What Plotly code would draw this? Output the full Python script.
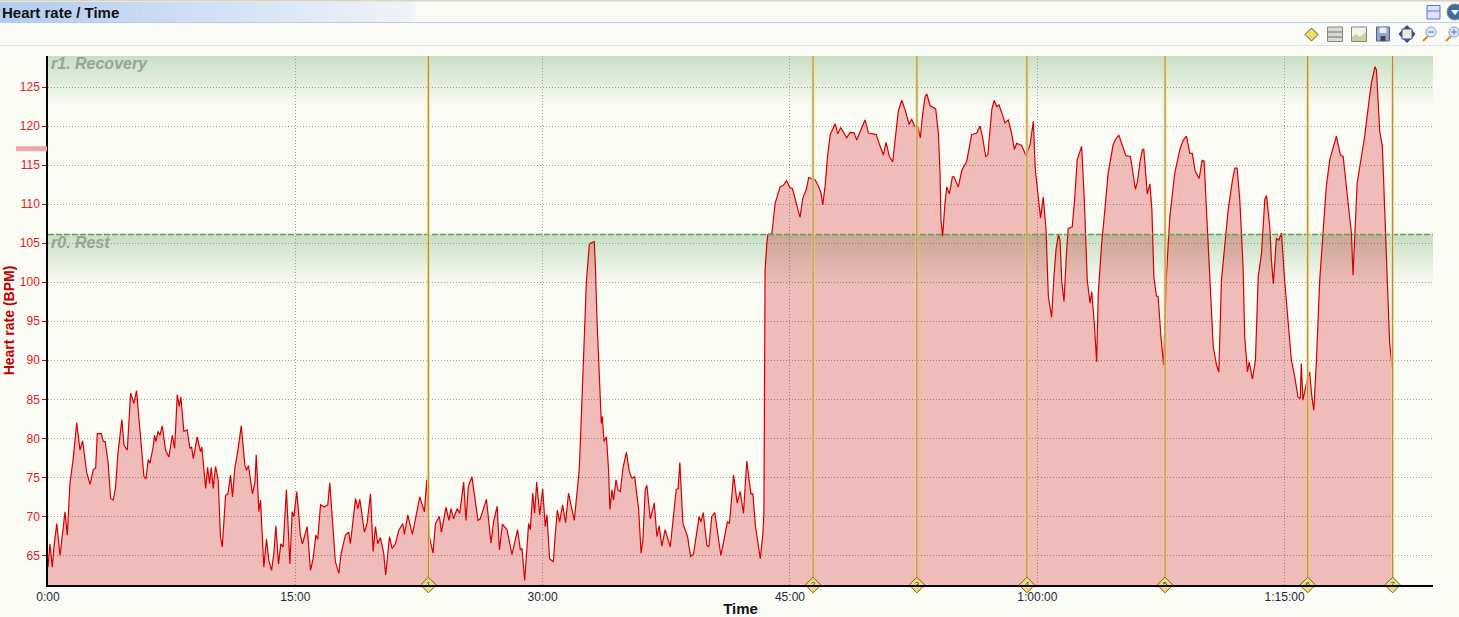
import plotly.graph_objects as go

W, H = 1459, 617

# ---- data -------------------------------------------------------------
minutes_a = [0,.12,.26,.36,.53,.73,.93,1.03,1.17,1.33,1.54,1.74,1.94,2.10,2.34,2.55,2.75,2.89,2.99,3.23,3.35,3.47,3.64,3.80,3.96,4.10,4.24,4.48,4.61,4.81,5.01,5.21,5.37,5.62,5.82,5.94,6.08,6.18,6.38,6.46,6.55,6.67,6.79,6.93,7.13,7.33,7.54,7.68,7.84,7.96,8.06,8.24,8.44,8.61,8.71,8.81,9.05,9.25,9.33,9.56,9.68,9.80,9.90,10.02,10.16,10.32,10.46,10.57,10.77,10.91,11.07,11.19,11.33,11.52,11.72,11.94,12.04,12.16,12.40,12.55,12.63,12.79,12.89]
bpm_a = [63.5,66.5,63.5,66.1,69.1,65.0,68.7,70.6,67.6,74.2,77.6,82.0,78.5,79.7,75.7,74.1,76.0,76.2,80.6,80.6,79.6,79.6,77.0,72.3,72.1,73.8,78.1,82.4,79.1,78.5,85.8,84.5,86.1,79.4,75.1,74.8,77.3,76.8,78.9,80.4,79.6,80.9,80.4,81.6,78.5,77.6,80.4,78.7,85.6,84.1,85.3,80.9,81.1,78.7,78.9,77.4,80.2,78.3,78.9,73.6,76.3,74.2,76.3,73.6,76.4,74.7,67.4,66.1,72.7,72.9,75.3,72.5,76.2,78.5,81.6,76.6,75.9,76.5,72.9,74.4,77.9,70.6,72.1]

minutes_b = [13.09,13.25,13.39,13.56,13.70,13.82,13.98,14.12,14.26,14.46,14.67,14.81,14.91,15.09,15.31,15.43,15.72,15.92,16.08,16.24,16.36,16.53,16.77,16.97,17.09,17.43,17.64,17.78,18.04,18.24,18.34,18.46,18.65,18.79,18.91,19.19,19.35,19.56,19.72,19.86,20.0,20.16,20.36,20.48,20.71,20.87,21.07,21.27,21.52,21.62,21.82,22.1,22.28,22.55,22.83,22.97,23.13,23.35,23.5,23.74,23.86,24.14,24.32,24.44,24.6,24.81,24.97,25.21,25.35,25.49,25.71,26.08]
bpm_b = [63.5,67.1,64.4,63.1,65.3,68.8,63.9,66.5,66.1,73.4,63.9,70.6,70.0,73.2,67.6,66.5,68.7,63.1,64.6,67.6,67.1,71.5,71.2,71.5,74.3,64.2,62.7,65.3,67.6,68.0,66.5,69.1,72.3,71.0,72.2,68.0,69.1,72.9,65.5,68.7,66.5,67.3,65.3,62.5,67.4,65.9,66.5,68.2,69.1,67.7,70.2,67.7,69.5,72.5,70.6,74.7,67.4,65.3,69.1,70.0,68.0,71.2,69.5,71.0,69.7,71.0,70.4,74.4,69.5,73.8,75.1,69.5]

minutes_c = [26.22,26.59,26.87,27.03,27.24,27.38,27.56,27.84,28.14,28.48,28.65,28.75,28.91,29.15,29.25,29.4,29.51,29.64,29.82,30.0,30.16,30.26,30.42,30.65,30.77,30.89,31.03,31.21,31.39,31.57,31.92,32.08,32.22,32.34,32.47,32.65,32.83,32.9,33.13,33.2,33.3,33.45,33.56,33.62,33.72,33.87,34.0,34.08,34.2,34.3,34.45,34.57,34.71,34.87,35.08,35.26,35.42,35.58,35.82,35.97,36.08,36.22,36.32,36.53,36.77,36.93,37.07,37.23,37.43,37.74,37.95,38.1,38.22,38.32,38.51,38.79,38.97,39.15,39.35,39.49,39.6,39.74,39.96,40.08,40.26,40.44,40.81,41.07,41.21,41.33,41.58,41.8,41.98,42.18,42.38,42.63,42.75,42.91,43.2,43.36,43.42]
bpm_c = [69.7,72.2,66.6,69.4,71.3,65.7,69.0,68.3,65.1,68.3,65.7,65.9,61.8,69.1,68.3,73.0,70.4,74.4,70.2,73.5,68.7,70.2,64.6,64.2,67.8,70.8,69.3,71.5,69.2,73.0,69.5,73.4,76.0,82.4,90.0,100.0,104.8,105.0,105.2,102.0,95.0,87.5,81.9,82.8,79.6,80.2,75.9,70.9,73.4,72.1,74.7,73.4,73.2,76.2,78.2,75.7,74.9,75.1,71.0,65.3,67.0,73.4,74.0,69.7,71.7,67.4,68.8,66.2,68.3,66.1,70.0,73.4,73.6,76.9,69.1,67.4,64.9,65.2,68.0,70.0,69.3,70.5,66.3,66.1,70.0,70.5,65.0,68.0,69.3,69.1,75.3,71.7,73.2,70.4,77.1,72.9,72.9,68.7,64.6,67.8,70.4]

minutes_d = [43.46,43.49,43.6,43.66,43.9,44.1,44.4,44.6,44.8,45.0,45.15,45.37,45.61,45.78,45.98,46.14,46.53,46.73,46.89,46.99,47.13,47.27,47.44,47.74,47.9,48.08,48.44,48.65,48.89,49.05,49.56,49.76,50.23,50.47,50.67,50.83,51.03,51.23,51.42,51.57,51.78,51.98,52.23,52.38,52.55,52.75,52.91,53.03,53.2,53.3,53.5,53.84,54.0,54.1,54.16,54.26,54.4,54.51,54.67,54.85,54.95,55.21,55.42,55.72,56.02,56.33,56.53,56.67,56.87,57.0,57.24,57.38,57.54,57.68,57.88,58.04,58.24,58.44,58.61,58.75,59.05,59.32,59.56,59.76,59.88,60.12,60.2,60.36,60.53,60.67,60.87,61.01,61.13,61.28,61.38,61.48,61.62,61.78,61.88,62.12,62.28,62.42,62.69,62.85,63.03,63.2,63.3,63.46,63.6]
bpm_d = [87.5,101.6,105.0,106.1,106.2,110.1,112.2,112.4,113.0,112.1,112.0,110.1,108.3,110.8,111.8,113.4,113.1,112.3,111.4,109.9,112.3,115.9,118.9,120.3,119.0,119.8,118.5,119.2,119.1,118.2,120.8,119.1,118.9,117.4,116.3,117.9,116.1,115.4,118.7,121.9,123.3,122.1,120.2,120.9,120.0,119.9,118.5,121.2,123.8,124.1,122.6,122.2,119.1,114.0,108.0,105.9,110.1,112.2,111.3,113.5,113.5,112.2,114.3,115.5,118.9,119.1,120.0,118.7,116.1,116.3,122.1,123.3,122.5,122.7,121.5,120.4,120.8,119.1,117.0,117.8,117.5,116.2,117.6,120.6,114.4,109.3,108.2,110.9,106.7,98.2,95.5,100.7,104.1,106.1,105.4,100.3,97.5,104.1,106.9,107.1,111.0,115.7,117.4,110.6,100.3,97.3,98.8,94.7,89.8]

minutes_e = [63.7,63.9,64.1,64.3,64.6,64.8,64.95,65.11,65.37,65.65,65.81,65.95,66.08,66.22,66.38,66.46,66.67,66.83,66.95,67.07,67.23,67.33,67.5,67.66,67.84,68.04,68.34,68.65,68.85,69.05,69.25,69.4,69.58,69.82,70.0,70.12,70.26,70.46,70.67,70.87,71.01,71.17,71.37,71.58,71.84,71.98,72.12,72.28,72.48,72.58,72.75,72.85,73.05,73.23,73.4,73.6,73.8,73.9,74.1,74.2,74.32,74.5,74.65,74.81,75.0,75.2,75.41,75.6,75.81,75.95,76.01,76.11,76.32,76.52,76.63,76.77,76.93,77.13,77.33,77.53,77.74,77.94,78.14,78.38,78.55,78.79,79.05,79.15,79.32,79.4,79.66,79.86,80.0,80.26,80.48,80.57,80.77,80.93,81.07,81.21,81.37,81.53]
bpm_e = [98.6,104.8,109.3,114.0,117.6,118.5,118.8,117.8,116.2,116.1,114.0,111.9,112.9,115.3,117.0,117.0,111.3,112.6,109.3,100.7,98.2,98.2,93.0,89.4,101.2,108.4,114.0,117.0,118.2,118.7,116.5,116.5,114.2,113.3,115.6,115.5,109.3,100.3,91.8,89.4,88.5,100.3,104.6,109.3,113.1,114.6,114.6,110.6,102.0,93.0,88.5,89.8,87.6,90.0,100.7,103.7,110.6,111.1,107.1,102.8,99.8,105.6,105.4,106.3,100.3,94.7,90.0,88.1,85.3,85.1,89.6,84.9,87.0,88.5,85.8,83.6,90.0,100.3,106.3,112.3,115.7,117.2,118.7,116.3,116.1,111.4,106.3,100.9,108.0,112.7,116.1,118.7,121.2,125.5,127.6,127.2,119.3,117.4,109.3,100.3,92.2,89.0]

lap_minutes = [23.07, 46.4, 52.7, 59.37, 67.75, 76.4, 81.55]
lap_labels = ["1", "2", "3", "4", "5", "6", "7"]
x_tick_minutes = [0, 15, 30, 45, 60, 75]
x_tick_labels = ["0:00", "15:00", "30:00", "45:00", "1:00:00", "1:15:00"]
y_ticks = [65, 70, 75, 80, 85, 90, 95, 100, 105, 110, 115, 120, 125]
rest_threshold = 106.1
rest_zone_floor = 99.5
recovery_zone_floor = 122.5
average_bpm = 117.1
x_range = [0, 84]
y_range = [61.22, 128.97]

minutes = minutes_a + minutes_b + minutes_c + minutes_d + minutes_e
bpm = bpm_a + bpm_b + bpm_c + bpm_d + bpm_e

BG = "#fbfbf5"
FONT = "Liberation Sans"

fig = go.Figure()


def band(y0, y1):
    fig.add_trace(go.Scatter(
        x=[x_range[0], x_range[1], x_range[1], x_range[0], x_range[0]],
        y=[y0, y0, y1, y1, y0], mode="lines", line=dict(width=0),
        fill="toself", hoverinfo="skip", showlegend=False,
        fillgradient=dict(type="vertical",
                          colorscale=[[0, "rgba(105,171,105,0)"],
                                      [1, "rgba(105,171,105,0.35)"]])))


band(recovery_zone_floor, y_range[1])
band(rest_zone_floor, rest_threshold)

fig.add_trace(go.Scatter(x=minutes, y=bpm, mode="lines",
                         line=dict(color="#d40000", width=1.2),
                         fill="tozeroy", fillcolor="rgba(206,0,6,0.25)",
                         showlegend=False))

fig.add_trace(go.Scatter(x=x_range, y=[rest_threshold] * 2, mode="lines",
                         line=dict(color="#5f9f55", width=1.6, dash="6px,2px"),
                         showlegend=False))

for t in lap_minutes:
    fig.add_trace(go.Scatter(x=[t, t], y=y_range, mode="lines",
                             line=dict(color="rgba(245,215,130,0.8)", width=3),
                             showlegend=False))
    fig.add_trace(go.Scatter(x=[t, t], y=y_range, mode="lines",
                             line=dict(color="#a8873c", width=1),
                             showlegend=False))

fig.add_trace(go.Scatter(
    x=lap_minutes, y=[y_range[0]] * len(lap_minutes), mode="markers+text",
    text=lap_labels, textposition="middle center",
    textfont=dict(family=FONT, size=8, color="#333"),
    marker=dict(symbol="diamond", size=12, color="#f4dc78",
                line=dict(color="#6e5c28", width=1)),
    cliponaxis=False, showlegend=False))

# ---- window chrome in page pixels (paper = whole page, margins are zero)
shapes = []
annotations = []


def px(x):
    return x / W


def py(y):
    return 1 - y / H


def rect(x0, y0, x1, y1, fill=None, line=None, lw=1, layer="above"):
    shapes.append(dict(type="rect", xref="paper", yref="paper",
                       x0=px(x0), x1=px(x1), y0=py(y0), y1=py(y1),
                       fillcolor=fill or "rgba(0,0,0,0)",
                       line=dict(color=line or "rgba(0,0,0,0)",
                                 width=lw if line else 0), layer=layer))


def seg(x0, y0, x1, y1, color, lw=1):
    shapes.append(dict(type="line", xref="paper", yref="paper",
                       x0=px(x0), x1=px(x1), y0=py(y0), y1=py(y1),
                       line=dict(color=color, width=lw), layer="above"))


def poly(points, fill, line=None, lw=1):
    path = "M " + " L ".join(f"{px(a):.5f},{py(b):.5f}" for a, b in points) + " Z"
    shapes.append(dict(type="path", xref="paper", yref="paper", path=path,
                       fillcolor=fill,
                       line=dict(color=line or "rgba(0,0,0,0)",
                                 width=lw if line else 0), layer="above"))


def circle(x0, y0, x1, y1, fill, line=None, lw=1):
    shapes.append(dict(type="circle", xref="paper", yref="paper",
                       x0=px(x0), x1=px(x1), y0=py(y0), y1=py(y1),
                       fillcolor=fill,
                       line=dict(color=line or "rgba(0,0,0,0)",
                                 width=lw if line else 0), layer="above"))


# title bar gradient
rect(0, 0, W, 1.5, "#d8d4c4")
c0, c1 = (178, 203, 242), (240, 243, 247)
steps = 70
for i in range(steps):
    f = i / (steps - 1)
    col = "rgb(%d,%d,%d)" % tuple(round(a + (b - a) * f) for a, b in zip(c0, c1))
    rect(i * 415 / steps, 2, (i + 1) * 415 / steps + 0.5, 22, col)
seg(0, 22.5, W, 22.5, "#b9cde6", 1)
seg(0, 45.5, W, 45.5, "#dbe3ea", 1)

# toolbar icons
poly([(1311.5, 28), (1318, 34.5), (1311.5, 41), (1305, 34.5)], "#f5dc70", "#5c5330", 1)
rect(1327.5, 27, 1342.5, 41.5, "#d8d8d4", "#8c8678", 1)
seg(1328, 32, 1342, 32, "#77736a")
seg(1328, 37, 1342, 37, "#77736a")
rect(1351.5, 27, 1366.5, 41.5, "#f4f4e8", "#8c8678", 1)
poly([(1352, 41), (1352, 37), (1356, 34), (1360, 37), (1366, 32), (1366, 41)], "#c8cfa0")
rect(1376.5, 27, 1389.5, 41, "#8fa8d0", "#4f5f8a", 1)
rect(1379.5, 27.5, 1386.5, 33, "#e8edf6")
rect(1380.5, 36, 1385.5, 41, "#444")
poly([(1407, 25), (1411, 29), (1403, 29)], "#44449a")
poly([(1407, 43), (1411, 39), (1403, 39)], "#44449a")
poly([(1398.5, 34), (1402, 30), (1402, 38)], "#44449a")
poly([(1415.5, 34), (1412, 30), (1412, 38)], "#44449a")
rect(1402, 29, 1412, 39, "#e8ecd8", "#55558a", 1)
for cx in (1431, 1454):
    seg(cx - 8, 41, cx - 3, 36, "#d9822b", 2)
    circle(cx - 5, 27, cx + 5, 37, "#dfeaf8", "#7f9fc8", 1)
seg(1428, 32, 1434, 32, "#4a6fb0", 1)
seg(1451, 32, 1457, 32, "#4a6fb0", 1)
seg(1454, 29, 1454, 35, "#4a6fb0", 1)
# window icons
rect(1427, 5.5, 1440, 19, "#dbe4f8", "#6c6fd0", 1)
seg(1427, 11, 1440, 11, "#6c6fd0", 1)
circle(1447, 4, 1463, 20, "#3f6e9e", "#7f8fa0", 1)
poly([(1451, 10), (1459, 10), (1455, 15)], "#ffffff")

# average-rate marker on the axis
shapes.append(dict(type="line", xref="paper", yref="y", x0=px(16), x1=px(47),
                   y0=average_bpm, y1=average_bpm,
                   line=dict(color="#eeaaa8", width=5), layer="above"))

PLOT_TOP, PLOT_BOTTOM = 56, 585


def note(x, y, text, **kw):
    # yref "y domain" keeps annotations from pushing the page margins
    annotations.append(dict(xref="paper", yref="y domain", x=px(x),
                            y=(PLOT_BOTTOM - y) / (PLOT_BOTTOM - PLOT_TOP),
                            text=text, showarrow=False, **kw))


note(0, 12, "<b>Heart rate / Time</b>", xanchor="left", yanchor="middle",
     font=dict(family=FONT, size=15, color="#111"))
note(49, 63.5, "<b><i>r1. Recovery</i></b>", xanchor="left", yanchor="middle",
     font=dict(family=FONT, size=16, color="#98a590"))
note(49, 242.5, "<b><i>r0. Rest</i></b>", xanchor="left", yanchor="middle",
     font=dict(family=FONT, size=16, color="#98a590"))

fig.update_layout(
    width=W, height=H, margin=dict(l=0, r=0, t=0, b=0, pad=0),
    paper_bgcolor=BG, plot_bgcolor=BG, showlegend=False, hovermode=False,
    font=dict(family=FONT), shapes=shapes, annotations=annotations,
    xaxis=dict(domain=[48 / W, 1433 / W], range=x_range, tickmode="array",
               automargin=False,
               tickvals=x_tick_minutes, ticktext=x_tick_labels, ticks="",
               tickfont=dict(family=FONT, size=12, color="#1a2a3a"),
               title=dict(text="<b>Time</b>", standoff=2,
                          font=dict(family=FONT, size=15, color="#111")),
               showgrid=True, gridcolor="#a0a09a", griddash="1px,2px", gridwidth=1,
               showline=True, linecolor="#000", linewidth=1.5, zeroline=False),
    yaxis=dict(domain=[1 - PLOT_BOTTOM / H, 1 - PLOT_TOP / H], range=y_range,
               automargin=False,
               tickmode="array",
               tickvals=y_ticks, ticks="outside", ticklen=4, tickcolor="#d40000",
               tickfont=dict(family=FONT, size=12, color="#e02020"),
               title=dict(text="<b>Heart rate (BPM)</b>", standoff=2,
                          font=dict(family=FONT, size=14, color="#c00000")),
               showgrid=True, gridcolor="#a0a09a", griddash="1px,2px", gridwidth=1,
               showline=True, linecolor="#000", linewidth=1.5, zeroline=False),
)

fig.write_html("out.html", config={"displayModeBar": False}, post_script=
               "document.body.style.margin='0';document.body.style.overflow='hidden';")
